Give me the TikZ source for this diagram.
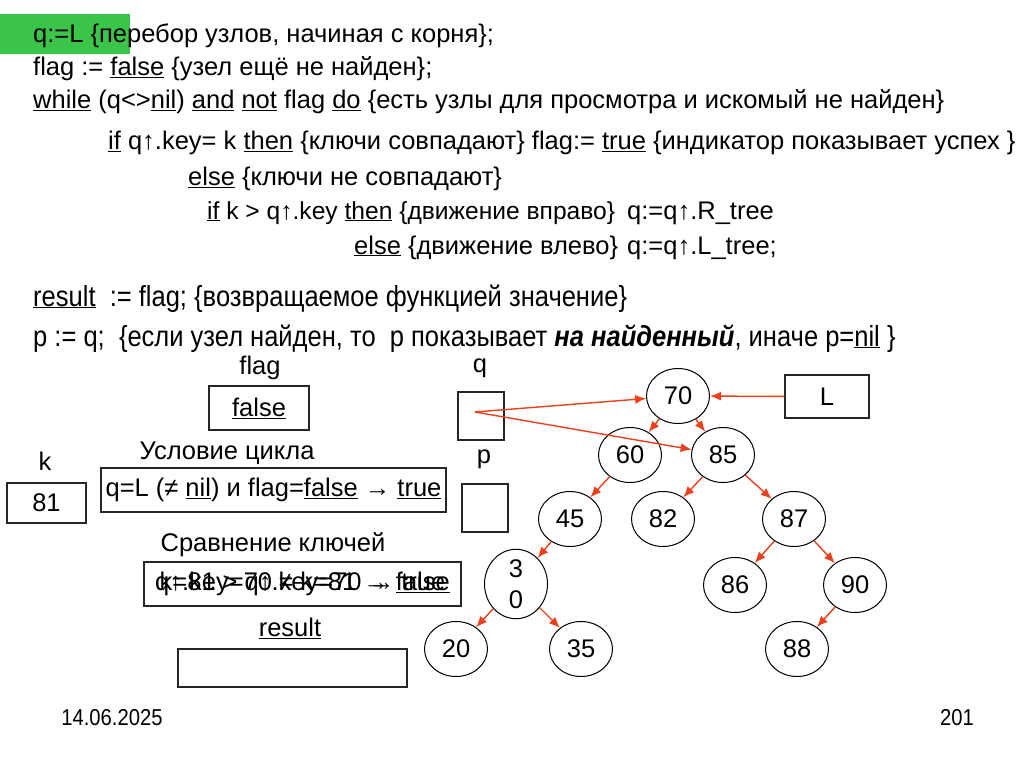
\documentclass[tikz,border=0pt]{standalone}
\usepackage{fontspec}
\setmainfont{Liberation Sans}
\newfontfamily\narrowsf[FakeStretch=0.88]{Liberation Sans}
\usetikzlibrary{arrows.meta,shapes.geometric}
\definecolor{ptrred}{RGB}{236,64,28}
\definecolor{hlgreen}{RGB}{58,196,72}
\tikzset{
  every node/.style={font=\fontsize{25.5}{30}\selectfont},
  line/.style={anchor=base west, inner sep=0pt},
  lbl/.style={inner sep=0pt},
  cell/.style={draw=black!85, line width=1.2pt, inner sep=0pt},
  key/.style={ellipse, draw, line width=1pt, minimum width=63pt, minimum height=55pt, inner sep=0pt},
  ptr/.style={draw=ptrred, line width=1.4pt, -{Latex[length=11pt,width=9pt]}},
}

\begin{document}
\begin{tikzpicture}[x=1pt,y=-1pt]
	\useasboundingbox[fill=white] (0,0) rectangle (1024,767);
	\fill[hlgreen] (0,14) rectangle (130,54);

	% program text
	\node[line] (l1) at (33,43) {q:=L \{перебор узлов, начиная с корня\};};
	\node[line] (l2) at (33,76) {flag := \underline{false} \{узел ещё не найден\};};
	\node[line] (l3) at (33,109) {\underline{while} (q<>\underline{nil}) \underline{and} \underline{not} flag \underline{do} \{есть узлы для просмотра и искомый не найден\}};
	\node[line] (l4) at (108,150) {\underline{if} q↑.key= k \underline{then} \{ключи совпадают\} flag:= \underline{true} \{индикатор показывает успех \}};
	\node[line] (l5) at (188,186) {\underline{else} \{ключи не совпадают\}};
	\node[line, font=\fontsize{24.6}{30}\selectfont] (l6) at (207,219) {\underline{if} k > q↑.key \underline{then} \{движение вправо\}};
	\node[line] (l6b) at (627,219) {q:=q↑.R\_tree};
	\node[line] (l7) at (354,254) {\underline{else} \{движение влево\}};
	\node[line] (l7b) at (627,254) {q:=q↑.L\_tree;};
	\node[line, font=\narrowsf\fontsize{29}{34}\selectfont] (l8) at (33,306) {\underline{result}~ := flag; \{возвращаемое функцией значение\}};
	\node[line, font=\narrowsf\fontsize{29}{34}\selectfont] (l9) at (33,346) {p := q;~ \{если узел найден, то~ p показывает \textbf{\textit{на найденный}}, иначе p=\underline{nil} \}};

	% variables
	\node[lbl] (flagl) at (260,368) {flag};
	\node[cell, minimum width=100pt, minimum height=44pt] (flag) at (259,408) {\underline{false}};
	\node[lbl] (kl) at (45,461) {k};
	\node[cell, minimum width=79pt, minimum height=40pt] (k) at (46.5,503) {81};
	\node[lbl] (condl) at (227,453) {Условие цикла};
	\node[cell, minimum width=345pt, minimum height=44pt] (cond) at (273.5,490) {q=L (≠ \underline{nil}) и flag=\underline{false} → \underline{true}};
	\node[lbl] (cmpl) at (273,545) {Сравнение ключей};
	\node[cell, minimum width=317pt, minimum height=44pt] (cmp) at (302.5,584) {};
	\node[lbl] (cmp1) at (cmp.center) {q↑.key=70 ≠ k=81 → \underline{false}};
	\node[lbl] (cmp2) at (cmp.center) {k=81 > q↑.key=70 → \underline{true}};
	\node[lbl] (resl) at (290,628) {\underline{result}};
	\node[cell, minimum width=229pt, minimum height=38pt] (res) at (292.5,668) {};
	\node[lbl] (ql) at (480,368) {q};
	\node[cell, minimum width=46pt, minimum height=48pt] (q) at (481,416) {};
	\node[lbl] (pl) at (484,459) {p};
	\node[cell, minimum width=46pt, minimum height=48pt] (p) at (485,508) {};
	\node[cell, minimum width=84pt, minimum height=43pt] (L) at (827,396.5) {L};
	\coordinate (qp) at (475,412);

	% tree
	\node[key] (n70) at (678,396) {70};
	\node[key] (n60) at (630,455) {60};
	\node[key] (n85) at (723,455) {85};
	\node[key] (n45) at (570,519) {45};
	\node[key] (n82) at (663,519) {82};
	\node[key] (n87) at (794,519) {87};
	\node[key, align=center, font=\fontsize{25.5}{31}\selectfont] (n30) at (516,584) {3\\0};
	\node[key] (n86) at (735,585) {86};
	\node[key] (n90) at (855,585) {90};
	\node[key] (n20) at (456,649) {20};
	\node[key] (n35) at (581,649) {35};
	\node[key] (n88) at (797,649) {88};

	\draw[ptr] (qp) -- (n70);
	\draw[ptr] (qp) -- (n85);
	\draw[ptr] (L) -- (n70);
	\draw[ptr] (n70) -- (n60);
	\draw[ptr] (n70) -- (n85);
	\draw[ptr] (n60) -- (n45);
	\draw[ptr] (n85) -- (n82);
	\draw[ptr] (n85) -- (n87);
	\draw[ptr] (n45) -- (n30);
	\draw[ptr] (n87) -- (n86);
	\draw[ptr] (n87) -- (n90);
	\draw[ptr] (n30) -- (n20);
	\draw[ptr] (n30) -- (n35);
	\draw[ptr] (n90) -- (n88);

	% footer
	\node[lbl, font=\narrowsf\fontsize{23}{27}\selectfont] (date) at (112,718) {14.06.2025};
	\node[lbl, font=\narrowsf\fontsize{23}{27}\selectfont] (page) at (957,718) {201};
\end{tikzpicture}
\end{document}
